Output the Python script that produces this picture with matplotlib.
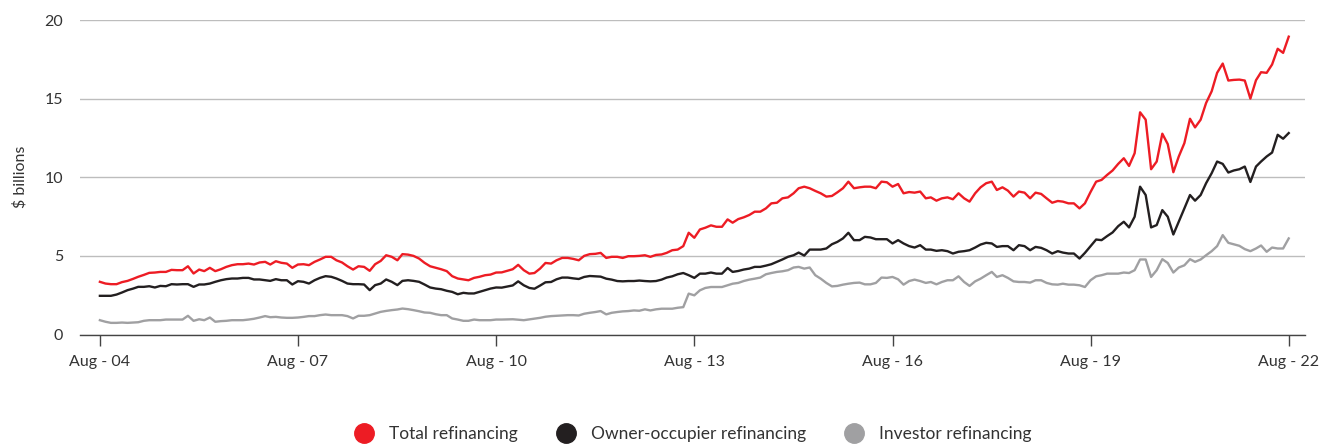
import pandas as pd
import matplotlib
matplotlib.use("Agg")
import matplotlib.pyplot as plt
from matplotlib.lines import Line2D

plt.rcParams["font.family"] = ["Lato", "DejaVu Sans"]

# monthly, Aug 2004 .. Aug 2022 ($ billions)
months = pd.date_range("2004-08-01", "2022-08-01", freq="MS")

total = [
    3.35, 3.24, 3.20, 3.20, 3.33, 3.41, 3.54, 3.67, 3.79, 3.92,
    3.94, 3.98, 3.98, 4.11, 4.09, 4.09, 4.34, 3.88, 4.13, 4.03,
    4.24, 4.03, 4.15, 4.30, 4.41, 4.47, 4.47, 4.51, 4.45, 4.58,
    4.62, 4.45, 4.66, 4.56, 4.51, 4.24, 4.45, 4.47, 4.41, 4.62,
    4.77, 4.94, 4.94, 4.72, 4.58, 4.34, 4.13, 4.34, 4.30, 4.05,
    4.47, 4.68, 5.04, 4.94, 4.72, 5.11, 5.08, 5.00, 4.83, 4.56,
    4.34, 4.24, 4.15, 4.03, 3.71, 3.56, 3.50, 3.45, 3.60, 3.67,
    3.77, 3.81, 3.94, 3.95, 4.05, 4.15,
    4.43, 4.09, 3.87, 3.91, 4.19, 4.55, 4.51, 4.72, 4.87, 4.87,
    4.81, 4.72, 5.00, 5.11, 5.13, 5.19, 4.87, 4.94, 4.94, 4.87,
    4.98, 4.98, 5.00, 5.04, 4.94, 5.06, 5.09, 5.19, 5.36, 5.40,
    5.62, 6.47, 6.15,
    6.68, 6.79, 6.94, 6.85, 6.85, 7.32, 7.11, 7.34, 7.45, 7.60,
    7.81, 7.81, 8.02, 8.34, 8.38, 8.66, 8.72, 8.98, 9.30, 9.40,
    9.30, 9.13,
    8.98, 8.77, 8.81, 9.04, 9.30, 9.72, 9.30, 9.36, 9.40, 9.40,
    9.30, 9.72, 9.68, 9.40, 9.57, 8.98, 9.06, 9.02, 9.09, 8.66,
    8.72, 8.51,
    8.66, 8.72, 8.60, 8.98, 8.66, 8.45, 8.98, 9.36, 9.62, 9.72,
    9.19, 9.36, 9.15, 8.77, 9.09, 9.02, 8.66, 9.02, 8.94, 8.66,
    8.38, 8.49, 8.45, 8.34, 8.34, 8.02, 8.34,
    9.06, 9.72, 9.83, 10.15, 10.43, 10.85, 11.21, 10.72, 11.53, 14.13,
    13.66, 10.51, 11.00, 12.77, 12.11, 10.32, 11.32, 12.17, 13.72, 13.17,
    13.66, 14.72, 15.47, 16.64, 17.23, 16.15, 16.19, 16.21, 16.15, 15.00,
    16.17, 16.68, 16.64, 17.17, 18.17, 17.91, 18.94,
]

owner = [
    2.46, 2.46, 2.46, 2.54, 2.67, 2.82, 2.92, 3.03, 3.03, 3.07,
    2.99, 3.09, 3.07, 3.20, 3.18, 3.20, 3.20, 3.03, 3.18, 3.18,
    3.24, 3.35, 3.45, 3.52, 3.56, 3.56, 3.60, 3.60, 3.50, 3.50,
    3.45, 3.41, 3.52, 3.45, 3.45, 3.18, 3.39, 3.35, 3.24, 3.45,
    3.60, 3.71, 3.67, 3.56, 3.41, 3.24, 3.20, 3.20, 3.18, 2.82,
    3.14, 3.24, 3.50, 3.35, 3.14, 3.41, 3.45, 3.41, 3.35, 3.18,
    2.99, 2.92, 2.88, 2.78, 2.71, 2.56, 2.65, 2.61, 2.61, 2.71,
    2.82, 2.92, 2.99, 2.98, 3.05, 3.12,
    3.38, 3.13, 2.96, 2.91, 3.11, 3.32, 3.34, 3.51, 3.62, 3.62,
    3.57, 3.53, 3.66, 3.72, 3.70, 3.68, 3.55, 3.49, 3.40, 3.38,
    3.40, 3.40, 3.43, 3.40, 3.38, 3.40, 3.49, 3.62, 3.70, 3.83,
    3.91, 3.77, 3.60,
    3.87, 3.87, 3.94, 3.87, 3.87, 4.23, 3.98, 4.04, 4.13, 4.19,
    4.30, 4.30, 4.38, 4.47, 4.62, 4.77, 4.94, 5.04, 5.21, 5.02,
    5.40, 5.40,
    5.40, 5.47, 5.74, 5.89, 6.11, 6.47, 6.00, 6.00, 6.21, 6.17,
    6.06, 6.06, 6.06, 5.79, 6.00, 5.79, 5.62, 5.53, 5.68, 5.40,
    5.40, 5.32,
    5.36, 5.30, 5.15, 5.26, 5.30, 5.36, 5.53, 5.72, 5.83, 5.79,
    5.57, 5.62, 5.62, 5.36, 5.68, 5.62, 5.36, 5.57, 5.51, 5.36,
    5.15, 5.30, 5.21, 5.15, 5.15, 4.83, 5.19,
    5.62, 6.04, 6.00, 6.26, 6.49, 6.89, 7.17, 6.81, 7.49, 9.40,
    8.87, 6.81, 6.96, 7.91, 7.49, 6.36, 7.17, 8.02, 8.87, 8.51,
    8.87, 9.62, 10.26, 11.00, 10.85, 10.30, 10.43, 10.51, 10.68, 9.70,
    10.68, 11.00, 11.32, 11.57, 12.70, 12.45, 12.81,
]

investor = [
    0.91, 0.81, 0.74, 0.74, 0.76, 0.74, 0.76, 0.78, 0.87, 0.91,
    0.91, 0.91, 0.95, 0.95, 0.95, 0.95, 1.19, 0.87, 0.97, 0.91,
    1.08, 0.81, 0.85, 0.87, 0.91, 0.91, 0.91, 0.95, 1.00, 1.08,
    1.17, 1.10, 1.12, 1.08, 1.06, 1.06, 1.08, 1.12, 1.17, 1.17,
    1.23, 1.27, 1.23, 1.23, 1.23, 1.17, 1.02, 1.19, 1.19, 1.23,
    1.33, 1.44, 1.50, 1.55, 1.59, 1.65, 1.61, 1.55, 1.48, 1.40,
    1.38, 1.29, 1.23, 1.23, 1.02, 0.95, 0.87, 0.87, 0.95, 0.91,
    0.91, 0.91, 0.95, 0.95, 0.96, 0.97,
    0.94, 0.91, 0.96, 1.00, 1.06, 1.13, 1.17, 1.19, 1.21, 1.23,
    1.23, 1.21, 1.32, 1.38, 1.43, 1.49, 1.28, 1.38, 1.43, 1.47,
    1.49, 1.53, 1.51, 1.60, 1.53, 1.60, 1.64, 1.64, 1.64, 1.70,
    1.74, 2.60, 2.49,
    2.81, 2.96, 3.02, 3.02, 3.02, 3.13, 3.23, 3.28, 3.40, 3.49,
    3.55, 3.62, 3.83, 3.91, 3.98, 4.02, 4.09, 4.26, 4.30, 4.19,
    4.26, 3.77,
    3.55, 3.28, 3.06, 3.09, 3.17, 3.23, 3.28, 3.30, 3.19, 3.19,
    3.28, 3.62, 3.60, 3.66, 3.51, 3.17, 3.40, 3.49, 3.40, 3.28,
    3.34, 3.19,
    3.34, 3.45, 3.45, 3.70, 3.34, 3.09, 3.38, 3.55, 3.77, 3.98,
    3.66, 3.77, 3.60, 3.38, 3.34, 3.34, 3.30, 3.45, 3.45, 3.28,
    3.19, 3.17, 3.23, 3.17, 3.17, 3.13, 3.02,
    3.45, 3.70, 3.77, 3.87, 3.87, 3.87, 3.94, 3.91, 4.09, 4.77,
    4.77, 3.66, 4.09, 4.79, 4.55, 3.94, 4.26, 4.40, 4.79, 4.62,
    4.77, 5.04, 5.30, 5.62, 6.32, 5.83, 5.74, 5.64, 5.43, 5.30,
    5.47, 5.66, 5.26, 5.53, 5.47, 5.47, 6.11,
]

series_names = ["Total refinancing", "Owner-occupier refinancing", "Investor refinancing"]
colors = ["#ED1C24", "#231F20", "#A0A0A2"]

tick_dates = pd.date_range("2004-08-01", "2022-08-01", freq="36MS")
tick_labels = ["Aug - 04", "Aug - 07", "Aug - 10", "Aug - 13", "Aug - 16", "Aug - 19", "Aug - 22"]

fig = plt.figure(figsize=(13.32, 4.46), dpi=100)
ax = fig.add_axes([80 / 1332, (446 - 334.5) / 446, 1225 / 1332, 314.5 / 446])

# plot order: investor at back, total on top
for vals, col in zip([investor, owner, total], colors[::-1]):
    ax.plot(months, vals, color=col, lw=1.7, solid_joinstyle="round")

ax.set_ylim(0, 20)
ax.set_xlim(months[0] - pd.Timedelta(days=110), months[-1] + pd.Timedelta(days=90))
ax.set_yticks([0, 5, 10, 15, 20])
ax.set_xticks(tick_dates)
ax.set_xticklabels(tick_labels)
ax.yaxis.grid(True, color="#BDBDBD", lw=1)
ax.set_axisbelow(True)
for s in ["top", "right", "left"]:
    ax.spines[s].set_visible(False)
ax.spines["bottom"].set_color("#444444")
ax.spines["bottom"].set_linewidth(1)
ax.tick_params(axis="x", length=8, width=1, color="#444444", labelsize=11.5, pad=7, labelcolor="#333333")
ax.tick_params(axis="y", length=0, labelsize=11.5, pad=12, labelcolor="#333333")
ax.set_ylabel("$ billions", fontsize=11.5, color="#333333", labelpad=12)

handles = [Line2D([], [], ls="", marker="o", ms=14, color=c) for c in colors]
fig.legend(handles, series_names, loc="center", bbox_to_anchor=(0.52, 0.027), ncol=3,
           frameon=False, fontsize=12.5, handlelength=1.2, handletextpad=0.85,
           columnspacing=2.15, labelcolor="#333333")

fig.savefig("out.png", dpi=100)
